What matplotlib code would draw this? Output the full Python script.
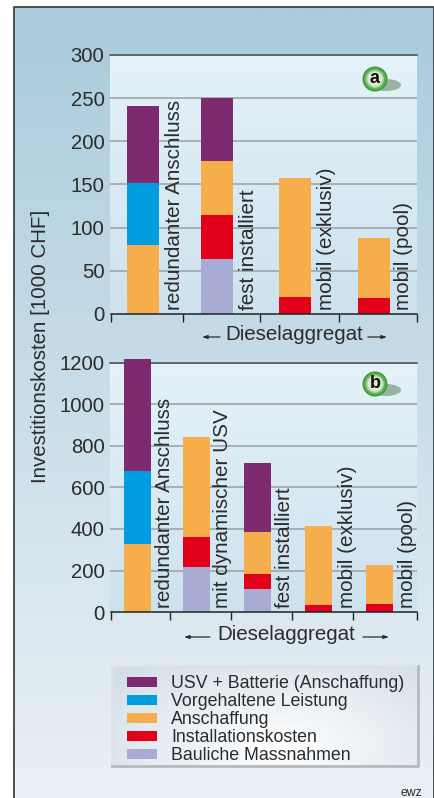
import matplotlib
matplotlib.use('Agg')
import matplotlib.pyplot as plt
import matplotlib.patches as patches
import numpy as np

plt.rcParams['font.family'] = ['Liberation Sans', 'DejaVu Sans']

W, H = 435, 798

series_names = ['USV + Batterie (Anschaffung)', 'Vorgehaltene Leistung', 'Anschaffung',
                'Installationskosten', 'Bauliche Massnahmen']
colors = ['#7d2a70', '#009ee0', '#f6ae4c', '#e2001a', '#a8acd4']

# panel a
cats_a = ['redundanter Anschluss', 'fest installiert', 'mobil (exklusiv)', 'mobil (pool)']
bauliche_a = [0, 64, 0, 0]
install_a = [0, 51, 20, 18.5]
anschaffung_a = [80, 62, 138, 69.5]
leistung_a = [72, 0, 0, 0]
usv_a = [89, 73, 0, 0]
ticks_a = [0, 50, 100, 150, 200, 250, 300]

# panel b
cats_b = ['redundanter Anschluss', 'mit dynamischer USV', 'fest installiert',
          'mobil (exklusiv)', 'mobil (pool)']
bauliche_b = [0, 217, 111, 0, 0]
install_b = [0, 144, 72, 34, 39]
anschaffung_b = [328, 482, 203, 380, 187]
leistung_b = [352, 0, 0, 0, 0]
usv_b = [539, 0, 332, 0, 0]
ticks_b = [0, 200, 400, 600, 800, 1000, 1200]

text_col = '#2b2b2b'


def px_axes(left, top, right, bottom, **kw):
    return fig.add_axes([left / W, 1 - bottom / H, (right - left) / W, (bottom - top) / H], **kw)


def gradient(ax, extent, c1, c2, zorder=0):
    c1 = np.array(matplotlib.colors.to_rgb(c1))
    c2 = np.array(matplotlib.colors.to_rgb(c2))
    t = np.linspace(0, 1, 256)[:, None, None]
    img = c1 * (1 - t) + c2 * t
    ax.imshow(img, extent=extent, aspect='auto', zorder=zorder, interpolation='bilinear')


def draw_panel(box, ymax, ticks, cats, stacks, centers, bar_w, sep, label_x, label_y):
    ax = px_axes(*box)
    ax.patch.set_alpha(0)
    ax.set_xlim(box[0], box[2])
    ax.set_ylim(0, ymax)
    ax.set_yticks(ticks)
    ax.tick_params(axis='y', length=0, pad=4.3, labelsize=14.6, labelcolor=text_col)
    ax.set_xticks(sep)
    ax.set_xticklabels([])
    ax.tick_params(axis='x', length=6, width=1, color='#222222', direction='out')
    for t in ticks[1:]:
        ax.axhline(t, color='#9a9fa3', lw=1.1, zorder=1)
    ax.axhline(ticks[-1], color='#55595c', lw=1.2, zorder=1, clip_on=False)
    for s in ['top', 'right', 'left']:
        ax.spines[s].set_visible(False)
    ax.spines['bottom'].set_color('#222222')
    ax.spines['bottom'].set_linewidth(1.1)
    ax.spines['bottom'].set_zorder(5)

    bottom = np.zeros(len(cats))
    for vals, c in stacks:
        bars = ax.bar(centers, vals, width=bar_w, bottom=bottom, color=c, zorder=3, linewidth=0)
        for b in bars:
            b.set_clip_on(False)
        bottom += np.array(vals, dtype=float)
    for x, name in zip(label_x, cats):
        ax.text(x, label_y, name, rotation=90, ha='center', va='bottom', fontsize=14.9,
                color=text_col, zorder=4)
    return ax


def badge(ov, x, y, letter):
    ov.add_patch(patches.Ellipse((x + 11, y + 6), 30, 12, color='#7f9f84', alpha=0.75, lw=0, zorder=5))
    for r, c in [(12.5, '#3a9a3e'), (11, '#5fb255'), (9, '#a9d39a'), (7.5, '#dcebd2')]:
        ov.add_patch(patches.Circle((x, y), r, color=c, lw=0, zorder=6))
    ov.text(x, y - 0.5, letter, ha='center', va='center', fontsize=13, fontweight='bold',
            color='#111111', zorder=7)


def arrow(ov, x0, x1, y):
    ov.annotate('', xy=(x1, y), xytext=(x0, y), zorder=5,
                arrowprops=dict(arrowstyle='-|>,head_length=0.3,head_width=0.1', lw=0.9,
                                color=text_col, shrinkA=0, shrinkB=0))


fig = plt.figure(figsize=(W / 100, H / 100), dpi=100, facecolor='white')

# overlay in pixel coordinates for background, frame and annotations
ov = fig.add_axes([0, 0, 1, 1])
ov.set_xlim(0, W)
ov.set_ylim(H, 0)
ov.axis('off')
gradient(ov, (14.5, 434, H, 7), '#a9cbdc', '#eaf1f6')
gradient(ov, (110.5, 417.5, 314, 55), '#e5f2f9', '#cde2ee', zorder=1)
gradient(ov, (110.5, 417.5, 612, 363), '#e5f2f9', '#cde2ee', zorder=1)
ov.set_xlim(0, W)
ov.set_ylim(H, 0)
ov.plot([14.5, 14.5, 434, 434], [H, 7, 7, H], color='#3c4448', lw=1.3, zorder=2)

stacks_a = [(bauliche_a, colors[4]), (install_a, colors[3]), (anschaffung_a, colors[2]),
            (leistung_a, colors[1]), (usv_a, colors[0])]
stacks_b = [(bauliche_b, colors[4]), (install_b, colors[3]), (anschaffung_b, colors[2]),
            (leistung_b, colors[1]), (usv_b, colors[0])]

ax_a = draw_panel((110.5, 55, 417.5, 314), 300, ticks_a, cats_a, stacks_a,
                  [143, 217, 295, 374], 32, [110.5, 182.5, 260.5, 339, 417],
                  [175, 249, 327, 404], 5)
ax_b = draw_panel((110.5, 363, 417.5, 612), 1200, ticks_b, cats_b, stacks_b,
                  [137.5, 196.5, 257.5, 318.5, 379.5], 27, [110.5, 170, 231, 292.5, 353, 417],
                  [165, 222, 285, 348, 408], 18)

ov.text(41, 346, 'Investitionskosten [1000 CHF]', rotation=90, ha='center', va='center',
        fontsize=14.8, color=text_col)

ov2 = fig.add_axes([0, 0, 1, 1])
ov2.set_xlim(0, W)
ov2.set_ylim(H, 0)
ov2.axis('off')
ov2.patch.set_alpha(0)

ov2.text(294, 335, 'Dieselaggregat', ha='center', va='center', fontsize=14.8, color=text_col)
arrow(ov2, 220, 202, 337)
arrow(ov2, 368, 387, 337)
ov2.text(286.5, 635, 'Dieselaggregat', ha='center', va='center', fontsize=14.8, color=text_col)
arrow(ov2, 210, 184, 637)
arrow(ov2, 363, 389, 637)

badge(ov2, 375, 79, 'a')
badge(ov2, 375, 384, 'b')

# legend box
yy, xx = np.mgrid[0:1:120j, 0:1:320j]
d = np.clip(np.hypot((xx - 0.55) / 0.72, (yy - 0.8) / 1.1), 0, 1)[..., None]
img = np.array([1, 1, 1]) * (1 - d) + np.array(matplotlib.colors.to_rgb('#d3dee8')) * d
ov2.imshow(img, extent=(112, 418, 766, 666), aspect='auto', zorder=1)
ov2.set_xlim(0, W)
ov2.set_ylim(H, 0)
ov2.plot([112, 112, 418], [766, 666, 666], color='#dfe2e4', lw=2, zorder=2)
ov2.plot([112, 418, 418], [766, 766, 666], color='#b6babd', lw=2, zorder=2)
leg_top = 677
for i, (name, c) in enumerate(zip(series_names, colors)):
    y = leg_top + i * 18
    ov2.add_patch(patches.Rectangle((127, y), 30, 10, color=c, lw=0, zorder=3))
    ov2.text(171, y + 6, name, ha='left', va='center', fontsize=12.8, color=text_col, zorder=3)

ov2.text(422, 793, 'ewz', ha='right', va='center', fontsize=8.8, color=text_col)

fig.savefig('out.png', dpi=100, facecolor='white')
